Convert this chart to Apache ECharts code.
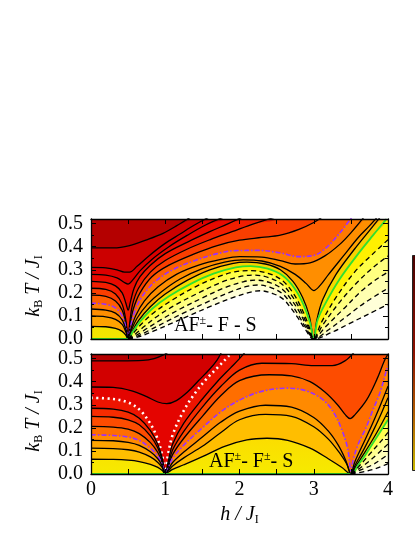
<!DOCTYPE html>
<html><head><meta charset="utf-8">
<script src="https://cdn.jsdelivr.net/npm/echarts@6/dist/echarts.min.js"></script>
<style>html,body{margin:0;padding:0;background:#fff}#c{width:415px;height:537px}</style>
</head><body><div id="c"></div>
<script>
// ---------- tick labels ----------
const hTickLabels = ['0', '1', '2', '3', '4'];
const tTickLabels = ['0.0', '0.1', '0.2', '0.3', '0.4', '0.5'];
const phaseTop = 'AF±- F - S';
const phaseBottom = 'AF±- F±- S';

// ---------- top panel contours [h/J1, kT/J1] ----------
const tU1 = [[0,0.395],[0.3,0.395],[0.52,0.405],[0.75,0.43],[0.97,0.458],[1.15,0.49],[1.35,0.53]];
const tU2 = [[0,0.31],[0.2,0.308],[0.35,0.3],[0.45,0.29],[0.52,0.29],[0.62,0.315],[0.78,0.36],[0.98,0.41],[1.2,0.455],[1.4,0.495],[1.6,0.53]];
const tU3 = [[0,0.28],[0.2,0.277],[0.35,0.265],[0.45,0.245],[0.5,0.238],[0.56,0.255],[0.66,0.295],[0.82,0.345],[1.05,0.4],[1.3,0.45],[1.55,0.495],[1.8,0.53]];
const tU4 = [[0,0.25],[0.2,0.245],[0.33,0.23],[0.42,0.2],[0.47,0.155],[0.5,0.125],[0.53,0.16],[0.58,0.22],[0.66,0.27],[0.8,0.32],[1.0,0.37],[1.3,0.42],[1.6,0.465],[1.85,0.5],[2.05,0.53]];
const tC1 = [[0,0.22],[0.2,0.215],[0.33,0.195],[0.42,0.15],[0.47,0.08],[0.5,0],[0.52,0.065],[0.56,0.15],[0.64,0.22],[0.8,0.29],[1.0,0.34],[1.3,0.39],[1.6,0.43],[1.9,0.465],[2.2,0.5],[2.5,0.53]];
const tC2 = [[0,0.19],[0.2,0.185],[0.33,0.165],[0.42,0.125],[0.47,0.065],[0.5,0],[0.525,0.06],[0.57,0.13],[0.66,0.2],[0.82,0.27],[1.05,0.32],[1.4,0.37],[1.7,0.405],[2.0,0.428],[2.3,0.44],[2.55,0.45],[2.8,0.475],[3.0,0.505],[3.12,0.53]];
const tP  = [[0,0.155],[0.2,0.15],[0.33,0.135],[0.42,0.1],[0.47,0.05],[0.5,0],[0.53,0.05],[0.58,0.11],[0.68,0.18],[0.85,0.245],[1.1,0.3],[1.4,0.34],[1.7,0.37],[1.95,0.383],[2.25,0.384],[2.55,0.373],[2.8,0.357],[3.0,0.362],[3.15,0.39],[3.3,0.44],[3.45,0.5],[3.52,0.53]];
const tC3 = [[0,0.13],[0.2,0.125],[0.33,0.112],[0.42,0.083],[0.47,0.04],[0.5,0],[0.535,0.04],[0.6,0.1],[0.72,0.165],[0.9,0.225],[1.15,0.28],[1.45,0.32],[1.75,0.345],[2.0,0.357],[2.3,0.355],[2.55,0.34],[2.75,0.325],[2.95,0.33],[3.15,0.36],[3.35,0.41],[3.5,0.46],[3.68,0.53]];
const tC4 = [[0,0.1],[0.2,0.096],[0.33,0.085],[0.42,0.063],[0.47,0.03],[0.5,0],[0.54,0.035],[0.62,0.09],[0.76,0.15],[0.95,0.205],[1.2,0.26],[1.5,0.305],[1.8,0.333],[2.05,0.343],[2.3,0.338],[2.55,0.315],[2.75,0.28],[2.9,0.24],[3.0,0.21],[3.08,0.23],[3.2,0.28],[3.4,0.36],[3.6,0.44],[3.75,0.49],[3.86,0.53]];
const tC5 = [[0,0.055],[0.2,0.053],[0.33,0.046],[0.42,0.033],[0.47,0.016],[0.5,0],[0.55,0.03],[0.64,0.08],[0.8,0.14],[1.0,0.195],[1.3,0.255],[1.6,0.3],[1.9,0.327],[2.1,0.333],[2.35,0.325],[2.55,0.3],[2.72,0.25],[2.85,0.18],[2.94,0.1],[3.0,0],[3.04,0.08],[3.12,0.17],[3.3,0.28],[3.55,0.39],[3.75,0.47],[3.9,0.53]];
const tG  = [[0,0],[0.5,0],[0.56,0.03],[0.66,0.075],[0.82,0.13],[1.05,0.185],[1.35,0.24],[1.65,0.283],[1.95,0.31],[2.15,0.316],[2.38,0.305],[2.58,0.275],[2.74,0.22],[2.86,0.15],[2.95,0.07],[3.0,0],[3.05,0.08],[3.15,0.15],[3.35,0.26],[3.6,0.37],[3.8,0.45],[3.98,0.52]];
const tD1 = [[0.5,0],[0.57,0.025],[0.68,0.065],[0.85,0.115],[1.1,0.17],[1.4,0.225],[1.7,0.268],[1.95,0.292],[2.15,0.296],[2.38,0.285],[2.57,0.255],[2.72,0.2],[2.84,0.13],[2.93,0.06],[3.0,0],[3.1,0.07],[3.3,0.18],[3.55,0.29],[3.8,0.37],[4.0,0.43]];
const tD2 = [[0.5,0],[0.59,0.02],[0.72,0.055],[0.9,0.1],[1.15,0.15],[1.45,0.2],[1.75,0.245],[2.0,0.27],[2.2,0.277],[2.4,0.265],[2.58,0.235],[2.72,0.18],[2.83,0.12],[2.92,0.055],[3.0,0],[3.12,0.06],[3.35,0.16],[3.6,0.25],[3.8,0.31],[4.0,0.36]];
const tD3 = [[0.5,0],[0.61,0.016],[0.76,0.047],[0.95,0.085],[1.2,0.13],[1.5,0.178],[1.8,0.222],[2.05,0.248],[2.22,0.255],[2.42,0.243],[2.58,0.215],[2.71,0.165],[2.82,0.11],[2.91,0.05],[3.0,0],[3.15,0.05],[3.4,0.13],[3.65,0.21],[3.85,0.26],[4.0,0.29]];
const tD4 = [[0.5,0],[0.63,0.013],[0.8,0.04],[1.0,0.073],[1.25,0.113],[1.55,0.158],[1.85,0.2],[2.1,0.228],[2.25,0.234],[2.43,0.222],[2.58,0.196],[2.7,0.15],[2.8,0.1],[2.9,0.045],[3.0,0],[3.2,0.04],[3.45,0.1],[3.7,0.16],[4.0,0.22]];
const tD5 = [[0.5,0],[0.65,0.01],[0.84,0.034],[1.05,0.063],[1.3,0.098],[1.6,0.14],[1.9,0.178],[2.15,0.203],[2.28,0.209],[2.44,0.198],[2.58,0.175],[2.69,0.135],[2.79,0.09],[2.89,0.04],[3.0,0],[3.25,0.03],[3.5,0.07],[3.75,0.11],[4.0,0.15]];

// ---------- bottom panel contours ----------
const bU1 = [[0,0.49],[0.4,0.49],[0.7,0.492],[0.85,0.5],[0.97,0.515],[1.05,0.53]];
const bU2 = [[0,0.377],[0.3,0.375],[0.55,0.36],[0.75,0.335],[0.9,0.312],[1.02,0.305],[1.15,0.318],[1.3,0.355],[1.45,0.405],[1.6,0.455],[1.7,0.495],[1.76,0.53]];
const bW  = [[0,0.33],[0.3,0.325],[0.5,0.31],[0.65,0.28],[0.8,0.218],[0.9,0.149],[0.96,0.079],[1.0,0],[1.03,0.07],[1.1,0.17],[1.25,0.275],[1.4,0.35],[1.55,0.41],[1.7,0.46],[1.85,0.51],[1.9,0.53]];
const bB0 = [[0,0.285],[0.3,0.281],[0.5,0.268],[0.65,0.242],[0.8,0.188],[0.9,0.128],[0.96,0.068],[1.0,0],[1.04,0.055],[1.1,0.13],[1.25,0.22],[1.5,0.325],[1.7,0.4],[1.88,0.46],[2.0,0.5],[2.08,0.53]];
const bB1 = [[0,0.25],[0.3,0.246],[0.5,0.235],[0.65,0.213],[0.8,0.165],[0.9,0.113],[0.96,0.06],[1.0,0],[1.045,0.045],[1.1,0.105],[1.25,0.185],[1.5,0.29],[1.75,0.38],[2.0,0.45],[2.3,0.48],[2.7,0.478],[3.0,0.47],[3.25,0.47],[3.42,0.49],[3.55,0.53]];
const bB2 = [[0,0.206],[0.3,0.203],[0.5,0.194],[0.65,0.175],[0.8,0.136],[0.9,0.093],[0.96,0.049],[1.0,0],[1.05,0.04],[1.1,0.085],[1.25,0.155],[1.5,0.25],[1.75,0.34],[2.0,0.405],[2.4,0.43],[2.7,0.425],[2.95,0.4],[3.15,0.355],[3.32,0.3],[3.43,0.255],[3.49,0.24],[3.55,0.255],[3.71,0.32],[3.85,0.41],[3.95,0.49],[4.0,0.52]];
const bP  = [[0,0.17],[0.3,0.167],[0.5,0.16],[0.65,0.145],[0.8,0.112],[0.9,0.077],[0.96,0.041],[1.0,0],[1.05,0.032],[1.1,0.068],[1.25,0.125],[1.5,0.2],[1.75,0.27],[2.0,0.32],[2.3,0.358],[2.64,0.372],[2.9,0.36],[3.13,0.32],[3.28,0.26],[3.38,0.19],[3.45,0.12],[3.48,0.06],[3.5,0],[3.53,0.06],[3.6,0.13],[3.71,0.205],[3.8,0.28],[3.89,0.35],[3.98,0.45],[4.0,0.47]];
const bB3 = [[0,0.146],[0.3,0.144],[0.5,0.137],[0.65,0.124],[0.8,0.096],[0.9,0.066],[0.96,0.035],[1.0,0],[1.05,0.024],[1.1,0.05],[1.25,0.095],[1.5,0.16],[1.75,0.225],[2.0,0.272],[2.35,0.298],[2.7,0.29],[3.0,0.245],[3.2,0.185],[3.33,0.125],[3.43,0.06],[3.5,0],[3.55,0.05],[3.65,0.12],[3.78,0.21],[3.9,0.3],[4.0,0.38]];
const bB4 = [[0,0.112],[0.3,0.11],[0.5,0.105],[0.65,0.095],[0.8,0.074],[0.9,0.05],[0.96,0.027],[1.0,0],[1.05,0.017],[1.1,0.035],[1.25,0.07],[1.5,0.12],[1.75,0.18],[2.0,0.235],[2.35,0.258],[2.7,0.25],[3.0,0.205],[3.2,0.15],[3.35,0.09],[3.45,0.04],[3.5,0],[3.56,0.04],[3.68,0.11],[3.82,0.2],[3.92,0.27],[4.0,0.33]];
const bB5 = [[0,0.064],[0.3,0.063],[0.5,0.06],[0.65,0.054],[0.8,0.042],[0.9,0.029],[0.96,0.015],[1.0,0],[1.05,0.01],[1.1,0.02],[1.25,0.04],[1.5,0.075],[1.8,0.12],[2.1,0.148],[2.37,0.155],[2.65,0.146],[2.95,0.112],[3.2,0.065],[3.38,0.028],[3.5,0],[3.57,0.035],[3.7,0.1],[3.85,0.18],[4.0,0.27]];
const bG  = [[0,0],[3.5,0],[3.6,0.04],[3.7,0.085],[3.8,0.135],[3.9,0.185],[4.0,0.235]];
const bE1 = [[3.5,0],[3.6,0.03],[3.75,0.085],[3.9,0.14],[4.0,0.18]];
const bE2 = [[3.5,0],[3.62,0.025],[3.8,0.07],[4.0,0.13]];
const bE3 = [[3.5,0],[3.65,0.02],[3.82,0.045],[4.0,0.085]];
const bE4 = [[3.5,0],[3.7,0.012],[3.85,0.025],[4.0,0.045]];

// ---------- styling (separate from data) ----------
const T_MAX = 0.52;
const SERIF = 'Liberation Serif';
const styles = {
  solid:  {color:'#000', width:1.3},
  dashed: {color:'#000', width:1.3, type:[5,3.5]},
  purple: {color:'#9a30ff', width:1.6, type:[5,2,1.5,2]},
  green:  {color:'#30e030', width:1.8},
  white:  {color:'#ffffff', width:2.6, type:[2,3.5]}
};
function vgrad(a, b){ return {type:'linear', x:0, y:0, x2:0, y2:1, colorStops:[{offset:0,color:a},{offset:1,color:b}]}; }

const topSet = [
  [tU1,'solid','#cc0000'], [tU2,'solid','#dc0000'], [tU3,'solid','#e80a00'], [tU4,'solid','#f21e00'],
  [tC1,'solid','#fa3e00'], [tC2,'solid','#ff5e00'], [tP,'purple','#ff7a00'], [tC3,'solid','#ff8e00'],
  [tC4,'solid','#ffa200'], [tC5,'solid',vgrad('#ffb400','#f2e600')], [tG,'green','#fff000'],
  [tD1,'dashed','#ffff48'], [tD2,'dashed','#ffff80'], [tD3,'dashed','#ffffb0'], [tD4,'dashed','#ffffd8'], [tD5,'dashed','#ffffff']
];
const botSet = [
  [bU1,'solid','#d20000'], [bU2,'solid','#e40400'], [bW,'white','#ee1400'], [bB0,'solid','#f62c00'],
  [bB1,'solid','#fd4c00'], [bB2,'solid','#ff6e00'], [bP,'purple','#ff8a00'], [bB3,'solid','#ffa400'],
  [bB4,'solid','#ffbe00'], [bB5,'solid',vgrad('#ffd400','#f6ea00')], [bG,'green','#ffff50'],
  [bE1,'dashed','#ffff90'], [bE2,'dashed','#ffffb8'], [bE3,'dashed','#ffffdc'], [bE4,'dashed','#ffffff']
];

const series = [];
function addPanel(set, g){
  set.forEach(([d, kind, fill]) => {
    const last = d[d.length-1];
    const fd = (last[1] >= T_MAX && last[0] < 4) ? d.concat([[last[0]+0.02, 0.9],[4, 0.9]]) : d;
    series.push({type:'line', xAxisIndex:g*2, yAxisIndex:g*2, data:fd, smooth:0.35, symbol:'none',
      lineStyle:{width:0, opacity:0}, areaStyle:{color:fill, opacity:1, origin:'start'}, z:2, silent:true});
  });
  set.forEach(([d, kind]) => {
    series.push({type:'line', xAxisIndex:g*2, yAxisIndex:g*2, data:d, smooth:0.35, symbol:'none',
      lineStyle:styles[kind], z:3, silent:true});
  });
}
addPanel(topSet, 0);
addPanel(botSet, 1);

const grids = [
  {left:91, top:219, width:297, height:120, show:true, backgroundColor:'#b40000', borderWidth:0},
  {left:91, top:354, width:297, height:120, show:true, backgroundColor:'#b40000', borderWidth:0}
];
const tickStyle = {color:'#000', width:1};
const nameRich = {
  i:{fontFamily:SERIF, fontStyle:'italic', fontSize:20, lineHeight:22, color:'#000'},
  s:{fontFamily:SERIF, fontSize:12, lineHeight:12, verticalAlign:'bottom', color:'#000'}
};
function xAx(g, pos, labels, name){
  const a = {type:'value', gridIndex:g, position:pos, min:0, max:4, interval:1, z:10,
    axisLine:{show:true, onZero:false, lineStyle:{color:'#000', width:1.3}},
    axisTick:{show:true, inside:true, length:5, lineStyle:tickStyle},
    minorTick:{show:true, splitNumber:2, length:5, lineStyle:tickStyle},
    splitLine:{show:false}, minorSplitLine:{show:false},
    axisLabel:{show:labels, margin:6, fontFamily:SERIF, fontSize:20, color:'#000',
      formatter:v => hTickLabels[Math.round(v)] || ''}};
  if (name){
    Object.assign(a, {name:'{i|h / J}{s|I}', nameLocation:'middle', nameGap:30,
      nameTextStyle:{fontFamily:SERIF, rich:nameRich}});
  }
  return a;
}
function yAx(g, pos, labels){
  const a = {type:'value', gridIndex:g, position:pos, min:0, max:T_MAX, interval:0.1, z:10,
    axisLine:{show:true, onZero:false, lineStyle:{color:'#000', width:1.3}},
    axisTick:{show:true, inside:true, length:5, lineStyle:tickStyle},
    minorTick:{show:true, splitNumber:2, length:3, lineStyle:tickStyle},
    splitLine:{show:false}, minorSplitLine:{show:false},
    axisLabel:{show:labels, showMaxLabel:false, margin:8, fontFamily:SERIF, fontSize:20, color:'#000',
      formatter:v => { const k = Math.round(v*10); return Math.abs(v*10-k) < 1e-6 ? (tTickLabels[k] || '') : ''; }}};
  if (labels){
    Object.assign(a, {name:'{i|k}{s|B}{i| T / J}{s|I}', nameLocation:'middle', nameRotate:90, nameGap:46,
      nameTextStyle:{fontFamily:SERIF, padding:[0,14,0,0], rich:nameRich}});
  }
  return a;
}

const labelRich = {
  a:{fontFamily:SERIF, fontSize:20, lineHeight:22, color:'#000'},
  s:{fontFamily:SERIF, fontSize:12, lineHeight:12, verticalAlign:'top', color:'#000'}
};
function richPhase(txt){ return txt.split('±').map((p,i,arr)=> '{a|'+p+'}' + (i<arr.length-1 ? '{s|±}' : '')).join(''); }

const chart = echarts.init(document.getElementById('c'), null, {renderer:'canvas'});
chart.setOption({
  animation:false,
  backgroundColor:'#ffffff',
  textStyle:{fontFamily:SERIF},
  grid:grids,
  xAxis:[xAx(0,'bottom',false), xAx(0,'top',false), xAx(1,'bottom',true,true), xAx(1,'top',false)],
  yAxis:[yAx(0,'left',true), yAx(0,'right',false), yAx(1,'left',true), yAx(1,'right',false)],
  series:series,
  graphic:[
    {type:'text', left:174, top:315, z:100, style:{text:richPhase(phaseTop), rich:labelRich}},
    {type:'text', left:209, top:451, z:100, style:{text:richPhase(phaseBottom), rich:labelRich}},
    {type:'rect', left:412, top:255, z:100, shape:{x:0, y:0, width:30, height:215},
      style:{fill:new echarts.graphic.LinearGradient(0,0,0,1,[
        {offset:0,color:'#4a0000'},{offset:0.45,color:'#8c1000'},{offset:0.75,color:'#b06000'},{offset:1,color:'#c8b800'}]),
        stroke:'#222', lineWidth:1}}
  ]
});
</script></body></html>
